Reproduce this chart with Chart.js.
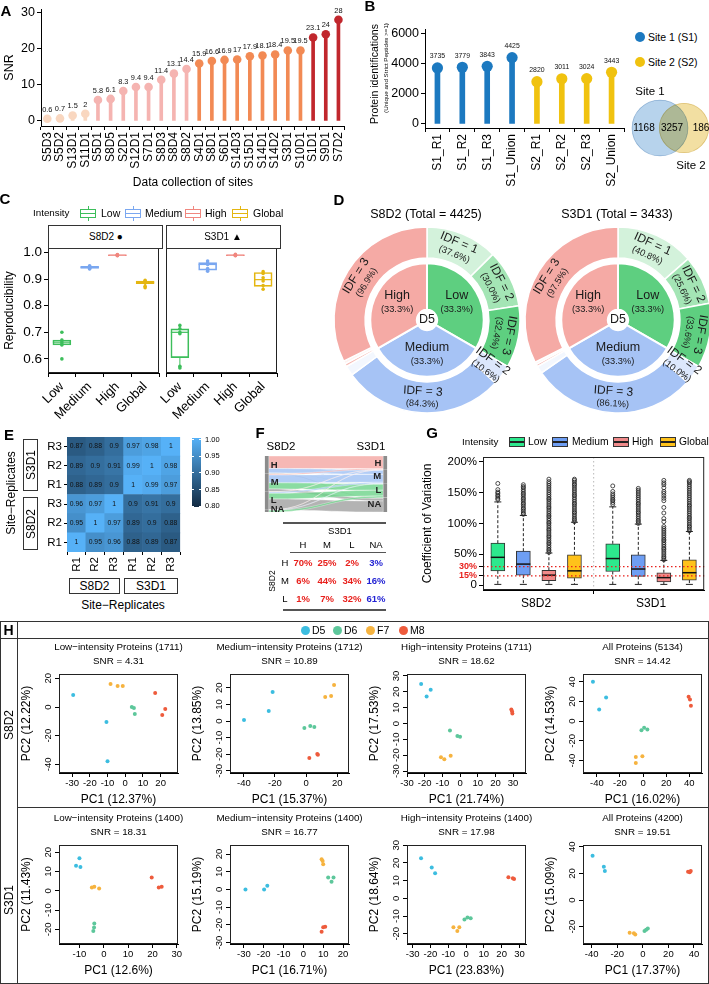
<!DOCTYPE html>
<html>
<head>
<meta charset="utf-8">
<script src="https://cdn.jsdelivr.net/npm/chart.js@4.4.1/dist/chart.umd.min.js"></script>
<style>
  html, body { margin: 0; padding: 0; width: 709px; height: 984px; overflow: hidden; background: #fff;
    font-family: "Liberation Sans", Arial, sans-serif; }
  .t { position: absolute; white-space: nowrap; line-height: 1; color: #000; }
  .r { position: absolute; box-sizing: border-box; }
</style>
</head>
<body>
<script>
// ---------- A: SNR per data collection ----------
const siteNames = ['S5D3','S5D2','S13D1','S11D1','S5D1','S8D5','S2D1','S12D1','S7D1','S8D3','S8D4','S8D2',
  'S4D1','S8D1','S6D1','S14D3','S15D1','S14D1','S14D2','S3D1','S10D1','S1D1','S9D1','S7D2'];
const siteSNR = [0.6,0.7,1.5,2,5.8,6.1,8.3,9.4,9.4,11.4,13.1,14.4,15.9,16.6,16.9,17,17.9,18.1,18.4,19.5,19.5,23.1,24,28];
const siteTier = [0,0,0,0,1,1,1,1,1,1,1,1,2,2,2,2,2,2,2,2,2,3,3,3];
const tierColors = ['#f9d7c0','#f5b4b1','#f28a54','#c1272d'];

// ---------- B: protein identifications ----------
const runNames = ['S1_R1','S1_R2','S1_R3','S1_Union','S2_R1','S2_R2','S2_R3','S2_Union'];
const runCounts = [3735,3779,3843,4425,2820,3011,3024,3443];
const runSite = [0,0,0,0,1,1,1,1];
const siteColors = ['#1c79c0','#f0c20f'];
const siteTotals = [4425, 3443];
const vennCounts = [1168, 3257, 186];

// ---------- C: reproducibility ----------
const repGroups = ['Low','Medium','High','Global'];
const repColors = ['#3dbe5b','#7aa7f0','#f0877f','#e4b611'];
// [lower whisker, q1, median, q3, upper whisker]
const repStatsS8D2 = [[0.648,0.653,0.663,0.671,0.676],[0.938,0.940,0.944,0.948,0.951],[0.987,0.988,0.990,0.991,0.993],[0.874,0.883,0.887,0.893,0.898]];
const repStatsS3D1 = [[0.566,0.605,0.700,0.713,0.726],[0.930,0.934,0.955,0.962,0.968],[0.987,0.988,0.990,0.991,0.993],[0.862,0.873,0.898,0.925,0.928]];
const repPtsS8D2 = [[0.700,0.671,0.664,0.656,0.652,0.600],[0.950,0.947,0.944,0.942,0.940,0.938],[0.992,0.991,0.990,0.989,0.988,0.990],[0.896,0.892,0.888,0.885,0.873,0.868]];
const repPtsS3D1 = [[0.726,0.713,0.700,0.695,0.572,0.566],[0.968,0.960,0.955,0.940,0.934,0.930],[0.993,0.991,0.990,0.989,0.988,0.990],[0.928,0.921,0.905,0.893,0.876,0.862]];

// ---------- D: intensity / IDF sunbursts ----------
const intensityLevels = ['Low','Medium','High'];
const intensityShare = [33.3, 33.3, 33.3];
const intensityColors = ['#5ecf80','#a6c3f5','#f5aaa5'];
const sunParent = [0,0,0,1,1,1,2,2,2];
const sunIdf = [1,2,3,2,3,1,2,1,3];
const sunPctS8D2 = [37.6,30.0,32.4,10.6,84.3,5.1,1.5,1.6,96.9];
const sunPctS3D1 = [40.8,25.6,33.6,10.0,86.1,3.9,1.3,1.2,97.5];
const sunColors = [['#d3f2db','#a4e5b5','#5ecf80'],['#f3f7fe','#dce7fc','#a6c3f5'],['#fdf3f2','#f6bcb7','#f5aaa5']];

// ---------- E: correlation heatmap (rows bottom to top) ----------
const repLabels = ['R1','R2','R3','R1','R2','R3'];
const corrRows = [
  [1,0.95,0.96,0.88,0.89,0.87],
  [0.95,1,0.97,0.89,0.9,0.88],
  [0.96,0.97,1,0.9,0.91,0.9],
  [0.88,0.89,0.9,1,0.99,0.97],
  [0.89,0.9,0.91,0.99,1,0.98],
  [0.87,0.88,0.9,0.97,0.98,1],
];

// ---------- F: class transitions S8D2 -> S3D1 ----------
const strata = ['H','M','L','NA'];
const transitionPct = [[70,25,2,3],[6,44,34,16],[1,7,32,61]];
const s8d2ClassSize = 1475;
const naToS3D1 = [9,23,140,0];
const strataColors = ['#f4a6a2','#9fc0f4','#6dd389','#a0a0a0'];

// ---------- G: coefficient of variation ----------
const cvSites = ['S8D2','S3D1'];
const cvColors = ['#2de88d','#6e9ef3','#f08a8a','#ffc21a'];
const cvStatsS8D2 = [[1,23,45,68,135],[1,16,34,55,113],[1,7,16,24,52],[1,11,23,49,102]];
const cvStatsS3D1 = [[1,22,43,67,127],[1,14,26,49,99],[1,5,12,20,40],[1,8,20,41,87]];
const cvOutS8D2 = [
  [139,141,144,146,149,151,155,165],
  [115,117,120,123,125,128,131,133,136,139,141,144,147,149,152,155,158,160,163],
  [53,56,58,61,64,67,69,72,75,78,80,83,86,89,91,94,97,100,102,105,108,111,113,116,119,122,125,127,130,133,136,139,141,144,147,150,153,156,159,162,165,168,172],
  [103,106,108,111,114,117,119,122,125,128,131,133,136,139,142,145,147,150,153,156,159,162,164,167,170,172],
];
const cvOutS3D1 = [
  [131,134,137,139,142,145,148,152,161],
  [100,103,105,108,111,114,117,119,122,125,128,131,133,136,139,142,145,148,151,154,157],
  [41,44,46,49,52,55,58,60,63,66,69,72,74,77,80,83,86,89,92,95,103,108,117,126,137,141,145,149,152,158,163,166,170],
  [88,91,94,96,99,102,105,108,110,113,116,119,122,125,128,130,133,136,139,142,145,148,151,154,157,160,163,166,168,170],
];
const cvTicks = [0,15,30,50,100,150,200];

// ---------- H: PCA ----------
const pcaGroups = ['D5','D6','F7','M8'];
const pcaColors = ['#3cbde0','#5dc79b','#f6b33f','#ee5b3c'];
const pcaGroupOf = [0,0,0,1,1,1,2,2,2,3,3,3];
const pcaTitles = ['Low−intensity Proteins','Medium−intensity Proteins','High−intensity Proteins','All Proteins'];
const pcS8D2Low = [[-29.4,8.4],[-10.6,-10.5],[-10,-37.8],[3.7,0],[4.9,-0.7],[5.4,-4.9],[-8.3,16.1],[-4.3,14.7],[-1.4,14.7],[16.9,9.8],[22.6,-1.4],[20.9,-5.6]];
const pcS8D2Medium = [[-39.9,0.6],[-24,6],[-21.5,17.5],[-1.1,-4.2],[2.7,-3],[5.3,-3.6],[12.3,14.5],[16.1,15],[18,21.7],[2.1,-22.3],[7.2,-19.9],[7.6,-20.3]];
const pcS8D2High = [[-22,25],[-16.6,21.3],[-18.9,17],[-5.7,-4.4],[-1.5,-7.9],[0,-8.3],[-10.8,-21.3],[-8.9,-22.5],[-5.3,-20.4],[29,8.8],[29.6,6.3],[29.4,7.8]];
const pcS8D2All = [[-43.4,40],[-32,24],[-38,12],[-1.4,-9.2],[0.9,-6.8],[3.7,-8.5],[-6.3,-36.4],[-0.6,-35.7],[-6.3,-42.5],[39.4,24.8],[40.6,22],[41.4,15.6]];
const pcS3D1Low = [[-10,16.8],[-11.4,13],[-9.6,12.3],[-3.9,-17],[-4,-19],[-4.3,-20.8],[-4.9,1.7],[-3.9,2.1],[-1.9,1.2],[19.7,6.9],[22.6,1.7],[23.8,2.1]];
const pcS3D1Medium = [[-29.2,0],[-19.8,0],[-18.2,2.1],[12.5,6.8],[15.2,6.8],[14.2,4.3],[9.2,17.1],[9.7,16],[10,14.3],[9.2,-23.9],[10,-21.4],[11,-21]];
const pcS3D1High = [[-25.3,22.6],[-19.3,17.4],[-17.4,14.2],[-0.9,-11.9],[0.8,-10.8],[2.6,-11.3],[-7.1,-16.4],[-4.9,-18.5],[-3.8,-16.4],[23.8,11.9],[26.3,11.3],[27,10.9]];
const pcS3D1All = [[-39.3,33.3],[-30.5,25],[-29.7,21.8],[1.3,-23.3],[2.6,-22.3],[3.9,-21.3],[-10.3,-24.5],[-7,-25],[-5.9,-25.8],[35.4,21.3],[36.7,20.8],[37.5,21.8]];
const pcaNS8D2 = [1711,1712,1711,5134];
const pcaNS3D1 = [1400,1400,1400,4200];
const pcaSnrS8D2 = ['4.31','10.89','18.62','14.42'];
const pcaSnrS3D1 = ['18.31','16.77','17.98','19.51'];
const pc1S8D2 = ['12.37','15.37','21.74','16.02'];
const pc2S8D2 = ['12.22','13.85','17.53','14.53'];
const pc1S3D1 = ['12.6','16.71','23.83','17.37'];
const pc2S3D1 = ['11.43','15.19','18.64','15.09'];
// axis limits per panel: [xmin, xmax, xstep, ymin, ymax, ystep]
const pcaRangeS8D2 = [[-37.4,29.8,10,-46,23,20],[-48.9,27.6,20,-31.3,28.3,10],[-30,37.3,10,-31.25,31.25,10],[-52,51,20,-52.7,48,20]];
const pcaRangeS3D1 = [[-18.4,30.5,10,-27.6,23.7,10],[-37,23,10,-30.8,25.1,10],[-33.2,33.7,10,-25.8,30.1,10],[-46.8,46.3,20,-33,41.3,20]];

Chart.defaults.font.family = '"Liberation Sans", Arial, sans-serif';
Chart.defaults.color = '#000';
Chart.defaults.animation = false;
Chart.defaults.responsive = false;
Chart.defaults.events = [];
Chart.defaults.plugins.legend.display = false;
Chart.defaults.plugins.tooltip.enabled = false;
const FONT = '"Liberation Sans", Arial, sans-serif';

function cv(x, y, w, h) {
  const c = document.createElement('canvas');
  c.width = w; c.height = h;
  c.style.cssText = `position:absolute;left:${x}px;top:${y}px;width:${w}px;height:${h}px`;
  document.body.appendChild(c);
  return c;
}
function lab(text, x, y, o = {}) {
  const d = document.createElement('div');
  d.className = 't';
  d.textContent = text;
  const tx = o.anchor === 'left' ? '0' : o.anchor === 'right' ? '-100%' : '-50%';
  d.style.left = x + 'px';
  d.style.top = y + 'px';
  d.style.fontSize = (o.size || 12) + 'px';
  if (o.bold) d.style.fontWeight = 'bold';
  if (o.color) d.style.color = o.color;
  d.style.transform = `translate(${tx},-50%)` + (o.rot ? ` rotate(${o.rot}deg)` : '');
  document.body.appendChild(d);
  return d;
}
function box(x, y, w, h, css) {
  const d = document.createElement('div');
  d.className = 'r';
  d.style.cssText += `left:${x}px;top:${y}px;width:${w}px;height:${h}px;` + (css || '');
  document.body.appendChild(d);
  return d;
}
function axis(o) {
  const a = {
    type: o.type || 'linear',
    display: o.display ?? true,
    min: o.min, max: o.max,
    offset: o.offset ?? false,
    reverse: o.reverse ?? false,
    grid: {display: true, drawOnChartArea: false, drawTicks: true, tickLength: o.tick ?? 4, color: '#000'},
    border: {display: o.border ?? true, color: '#000'},
    ticks: {color: o.color || '#000', font: o.fontFn || {size: o.font || 12}, padding: o.pad ?? 2, autoSkip: false,
      minRotation: o.rot || 0, maxRotation: o.rot || 0, crossAlign: o.cross || 'near'},
    title: {display: !!o.title, text: o.title || '', font: {size: o.titleSize || 12}, color: '#000', padding: {top: 2, bottom: 2}},
    afterFit: s => { if (o.width != null) s.width = o.width; if (o.height != null) s.height = o.height; },
  };
  let at = o.at;
  if (o.step) {
    // multiples of the step inside the axis limits
    at = [];
    for (let v = Math.ceil(o.min / o.step - 1e-9) * o.step; v <= o.max + 1e-9; v += o.step) at.push(+v.toFixed(6));
  }
  if (at) a.afterBuildTicks = s => { s.ticks = at.map(v => ({value: v})); };
  a.ticks.callback = o.cb || (v => String(v));
  return a;
}

// ---- plugins ----
const panelBorder = {id: 'panelBorder', afterDraw(chart) {
  const {ctx, chartArea: a} = chart;
  ctx.save(); ctx.strokeStyle = '#222'; ctx.lineWidth = 1;
  ctx.strokeRect(a.left + 0.5, a.top + 0.5, a.right - a.left - 1, a.bottom - a.top - 1);
  ctx.restore();
}};
const valueLabels = {id: 'valueLabels', afterDatasetsDraw(chart) {
  const ctx = chart.ctx;
  chart.data.datasets.forEach((ds, i) => {
    if (!ds.valueLabels) return;
    ctx.save();
    ctx.font = `${ds.valueLabels.size}px ${FONT}`; ctx.fillStyle = '#111';
    ctx.textAlign = 'center'; ctx.textBaseline = 'bottom';
    chart.getDatasetMeta(i).data.forEach((p, j) => ctx.fillText(String(ds.data[j]), p.x, p.y - ds.valueLabels.dy));
    ctx.restore();
  });
}};
const boxWhiskers = {id: 'boxWhiskers', afterDatasetsDraw(chart) {
  const ctx = chart.ctx, y = chart.scales.y;
  chart.data.datasets.forEach((ds, i) => {
    if (!ds.stats) return;
    chart.getDatasetMeta(i).data.forEach((bar, j) => {
      const [lo, q1, med, q3, hi] = ds.stats[j];
      const col = Array.isArray(ds.lineColor) ? ds.lineColor[j] : ds.lineColor;
      const x = bar.x, hw = bar.width / 2;
      ctx.save();
      ctx.strokeStyle = col; ctx.lineWidth = 1;
      ctx.setLineDash(ds.whiskerDash || []);
      ctx.beginPath();
      ctx.moveTo(x, y.getPixelForValue(q3)); ctx.lineTo(x, y.getPixelForValue(hi));
      ctx.moveTo(x, y.getPixelForValue(q1)); ctx.lineTo(x, y.getPixelForValue(lo));
      ctx.stroke();
      ctx.setLineDash([]);
      if (ds.capWidth) {
        ctx.beginPath();
        [lo, hi].forEach(v => { const py = y.getPixelForValue(v); ctx.moveTo(x - ds.capWidth / 2, py); ctx.lineTo(x + ds.capWidth / 2, py); });
        ctx.stroke();
      }
      const pm = y.getPixelForValue(med);
      ctx.lineWidth = ds.medianWidth || 1.2; ctx.strokeStyle = ds.medianColor || col;
      ctx.beginPath(); ctx.moveTo(x - hw, pm); ctx.lineTo(x + hw, pm); ctx.stroke();
      ctx.restore();
    });
  });
}};
const multiplyBlend = {id: 'multiplyBlend',
  beforeDatasetsDraw(chart) { chart.ctx.globalCompositeOperation = 'multiply'; },
  afterDatasetsDraw(chart) { chart.ctx.globalCompositeOperation = 'source-over'; }};
const sunLabels = {id: 'sunLabels', afterDatasetsDraw(chart, args, opts) {
  const ctx = chart.ctx;
  const f = s => `${s}px ${FONT}`;
  ctx.save();
  ctx.fillStyle = '#1a1a1a'; ctx.textAlign = 'center'; ctx.textBaseline = 'middle';
  const outer = chart.data.datasets[0];
  chart.getDatasetMeta(0).data.forEach((a, i) => {
    if (outer.pct[i] < 10) return;
    const mid = (a.startAngle + a.endAngle) / 2, r = (a.innerRadius + a.outerRadius) / 2;
    let rot = mid;
    if (a.endAngle - a.startAngle > 0.3) {
      rot = mid + Math.PI / 2;
      rot = Math.atan2(Math.sin(rot), Math.cos(rot));
      if (rot > 1.92) rot -= Math.PI; else if (rot < -1.92) rot += Math.PI;
    }
    ctx.save();
    ctx.translate(a.x + r * Math.cos(mid), a.y + r * Math.sin(mid));
    ctx.rotate(rot);
    ctx.font = f(12); ctx.fillText(`IDF = ${outer.idf[i]}`, 0, -6);
    ctx.font = f(9.3); ctx.fillText(`(${outer.pct[i].toFixed(1)}%)`, 0, 6.5);
    ctx.restore();
  });
  const inner = chart.data.datasets[2];
  const arcs = chart.getDatasetMeta(2).data;
  arcs.forEach((a, i) => {
    const mid = (a.startAngle + a.endAngle) / 2, r = (a.innerRadius + a.outerRadius) / 2 + 1;
    const x = a.x + r * Math.cos(mid), y = a.y + r * Math.sin(mid);
    ctx.font = f(12.5); ctx.fillText(intensityLevels[i], x, y - 7);
    ctx.font = f(9.3); ctx.fillText(`(${inner.data[i].toFixed(1)}%)`, x, y + 7);
  });
  ctx.font = f(12.5); ctx.fillText(opts.centre, arcs[0].x, arcs[0].y);
  ctx.restore();
}};
const cellText = {id: 'cellText', afterDatasetsDraw(chart) {
  const ctx = chart.ctx;
  ctx.save(); ctx.font = `6.8px ${FONT}`; ctx.fillStyle = '#111'; ctx.textAlign = 'center'; ctx.textBaseline = 'middle';
  chart.data.datasets.forEach((ds, i) => {
    if (!ds.cellValues) return;
    chart.getDatasetMeta(i).data.forEach((b, j) => ctx.fillText(String(ds.cellValues[j]), b.x, (b.y + b.base) / 2));
  });
  ctx.restore();
}};
const alluvium = {id: 'alluvium',
  beforeDatasetsDraw(chart, args, o) {
    const {ctx, scales: {x, y}} = chart;
    const xl = x.getPixelForValue(0) + 2, xr = x.getPixelForValue(1) - 2, xm = (xl + xr) / 2;
    const rows = o.flows, nR = rows[0].length;
    const curL = [], curR = [];
    let acc = 0;
    rows.forEach(r => { curL.push(acc); acc += r.reduce((s, v) => s + v, 0); });
    acc = 0;
    for (let j = 0; j < nR; j++) { curR.push(acc); rows.forEach(r => { acc += r[j]; }); }
    ctx.save();
    rows.forEach((r, i) => r.forEach((v, j) => {
      if (!v) return;
      const a0 = y.getPixelForValue(curL[i]), a1 = y.getPixelForValue(curL[i] + v);
      const b0 = y.getPixelForValue(curR[j]), b1 = y.getPixelForValue(curR[j] + v);
      curL[i] += v; curR[j] += v;
      ctx.beginPath();
      ctx.moveTo(xl, a0); ctx.bezierCurveTo(xm, a0, xm, b0, xr, b0);
      ctx.lineTo(xr, b1); ctx.bezierCurveTo(xm, b1, xm, a1, xl, a1); ctx.closePath();
      ctx.globalAlpha = 0.8; ctx.fillStyle = o.colors[j]; ctx.fill();
      ctx.globalAlpha = 1; ctx.strokeStyle = 'rgba(255,255,255,0.7)'; ctx.lineWidth = 0.5; ctx.stroke();
    }));
    ctx.restore();
  },
  afterDatasetsDraw(chart, args, o) {
    const {ctx, scales: {y}} = chart;
    const bars = chart.getDatasetMeta(0).data;
    ctx.save(); ctx.font = `bold 9.5px ${FONT}`; ctx.fillStyle = '#222'; ctx.textBaseline = 'middle';
    bars.forEach((b, k) => {
      const left = k < o.names.length;
      ctx.textAlign = left ? 'left' : 'right';
      ctx.fillText(o.names[k % o.names.length], left ? b.x + 4 : b.x - 4, Math.min((b.y + b.base) / 2, y.bottom - 3));
    });
    ctx.restore();
  }};
const refLines = {id: 'refLines', afterDatasetsDraw(chart, args, o) {
  const {ctx, chartArea: a, scales: {x, y}} = chart;
  ctx.save(); ctx.lineWidth = 1.2; ctx.setLineDash([1.5, 2.5]);
  ctx.strokeStyle = o.hColor;
  o.h.forEach(v => { const py = y.getPixelForValue(v); ctx.beginPath(); ctx.moveTo(a.left, py); ctx.lineTo(a.right, py); ctx.stroke(); });
  ctx.strokeStyle = o.vColor;
  o.v.forEach(v => { const px = x.getPixelForValue(v); ctx.beginPath(); ctx.moveTo(px, a.top); ctx.lineTo(px, a.bottom); ctx.stroke(); });
  ctx.restore();
}};

// ================= A =================
new Chart(cv(0, -3, 355, 195), {
  type: 'bar',
  data: {labels: siteNames, datasets: [
    {data: siteSNR, backgroundColor: siteTier.map(t => tierColors[t]), barThickness: 3, order: 2},
    {type: 'line', data: siteSNR, showLine: false, pointRadius: 4.3, pointBorderWidth: 0,
     pointBackgroundColor: siteTier.map(t => tierColors[t]), order: 1, valueLabels: {size: 7.4, dy: 5.5}},
  ]},
  options: {layout: {padding: {top: 12, right: 8}}, scales: {
    x: axis({type: 'category', offset: true, font: 12, rot: 90, height: 66, title: 'Data collection of sites', titleSize: 12,
      cb: (v, i) => siteNames[i]}),
    y: axis({min: -1.4, max: 31, step: 10, font: 12.5, width: 41, title: 'SNR', titleSize: 12.5}),
  }},
  plugins: [valueLabels],
});
lab('A', 6, 10, {size: 15, bold: true});

// ================= B =================
new Chart(cv(360, 0, 270, 195), {
  type: 'bar',
  data: {labels: runNames, datasets: [
    {data: runCounts, backgroundColor: runSite.map(s => siteColors[s]), barThickness: 5, order: 2},
    {type: 'line', data: runCounts, showLine: false, pointRadius: 5.6, pointBorderWidth: 0,
     pointBackgroundColor: runSite.map(s => siteColors[s]), order: 1, valueLabels: {size: 6.9, dy: 8}},
  ]},
  options: {layout: {padding: {top: 29.5, right: 6}}, scales: {
    x: axis({type: 'category', offset: true, font: 12, rot: 90, height: 67, cb: (v, i) => runNames[i]}),
    y: axis({min: -270, max: 6300, step: 2000, font: 12.5, width: 65}),
  }},
  plugins: [valueLabels],
});
lab('B', 370, 5, {size: 15, bold: true});
lab('Protein identifications', 374, 74, {size: 10.5, rot: -90});
lab('(Unique and Strict Peptides >=1)', 386, 68, {size: 6.2, rot: -90});
['Site 1 (S1)', 'Site 2 (S2)'].forEach((t, i) => {
  box(635, 32 + i * 25, 10, 10, `border-radius:50%;background:${siteColors[i]};`);
  lab(t, 648, 37 + i * 25, {size: 10.5, anchor: 'left'});
});
// Venn: the bubble controller insets the plot by the largest radius, so pad the canvas by the same amount
new Chart(cv(595, 52, 144, 152), {
  type: 'bubble',
  data: {datasets: [{
    data: siteTotals.map((n, i) => ({x: i, y: 0, r: 0.42 * Math.sqrt(n)})),
    backgroundColor: ['#b7d3ec', '#f2dfa2'], borderColor: ['#a8c4de', '#e4cf8e'], borderWidth: 0.8, clip: false,
  }]},
  options: {layout: {padding: 30}, scales: {x: {display: false, min: -1.458, max: 2.042}, y: {display: false, min: -1, max: 1}}},
  plugins: [multiplyBlend],
});
lab('Site 1', 650, 92, {size: 11.5});
lab('Site 2', 691, 166, {size: 11.5});
[644, 672, 701].forEach((x, i) => lab(String(vennCounts[i]), x, 128, {size: 10}));

// ================= C =================
function repChart(canvas, stats, pts, showY, padLeft) {
  return new Chart(canvas, {
    type: 'bar',
    data: {labels: repGroups, datasets: [
      {data: stats.map(s => [s[1], s[3]]), stats, lineColor: repColors, backgroundColor: 'rgba(255,255,255,0)',
       borderColor: repColors, borderWidth: 1, borderSkipped: false, barThickness: 18, order: 3},
      ...pts.map((p, g) => ({type: 'line', showLine: false, data: p.map(v => ({x: repGroups[g], y: v})),
        pointRadius: 1.8, pointBorderWidth: 0, pointBackgroundColor: repColors[g], order: 1})),
    ]},
    options: {layout: {padding: {left: padLeft, top: 12}}, scales: {
      x: axis({type: 'category', offset: true, font: 13, rot: 45, height: 50, cb: (v, i) => repGroups[i]}),
      y: showY ? axis({min: 0.547, max: 1.017, step: 0.1, font: 13.5, width: 48, title: 'Reproducibility', titleSize: 12, cb: v => v.toFixed(1)})
               : {display: false, min: 0.547, max: 1.017},
    }},
    plugins: [boxWhiskers, panelBorder],
  });
}
repChart(cv(0, 236, 163, 187), repStatsS8D2, repPtsS8D2, true, 0);
repChart(cv(136, 236, 145, 187), repStatsS3D1, repPtsS3D1, false, 30);
lab('C', 5, 198, {size: 15, bold: true});
box(48, 225, 115, 24, 'border:1px solid #333;background:#fff;');
box(166, 225, 115, 24, 'border:1px solid #333;background:#fff;');
lab('S8D2 ●', 106, 237, {size: 10});
lab('S3D1 ▲', 223, 237, {size: 10});
lab('Intensity', 33, 213, {size: 9.8, anchor: 'left'});
[[88, 101], [133, 145], [193, 205], [240, 253]].forEach(([ix, tx], i) => {
  const c = repColors[i];
  box(ix - 8, 208.5, 16, 9, `border:1px solid ${c};background:linear-gradient(to bottom,transparent 42%,${c} 42%,${c} 58%,transparent 58%);`);
  box(ix - 0.5, 205.5, 1, 3, `background:${c};`);
  box(ix - 0.5, 217.5, 1, 3, `background:${c};`);
  lab(repGroups[i], tx, 213, {size: 10.5, anchor: 'left'});
});

// ================= D =================
function sunburst(cx, cy, pct, centre) {
  return new Chart(cv(cx - 120, cy - 120, 240, 240), {
    type: 'doughnut',
    data: {datasets: [
      {data: pct.map((p, i) => p * intensityShare[sunParent[i]] / 100), idf: sunIdf, pct,
       backgroundColor: pct.map((p, i) => sunColors[sunParent[i]][sunIdf[i] - 1]), borderColor: '#fff', borderWidth: 1.5, weight: 30},
      {data: [1], backgroundColor: 'rgba(0,0,0,0)', borderWidth: 0, weight: 5},
      {data: intensityShare, backgroundColor: intensityColors, borderColor: '#fff', borderWidth: 2, weight: 45},
    ]},
    options: {radius: 93, cutout: 13, plugins: {sunLabels: {centre}}},
    plugins: [sunLabels],
  });
}
sunburst(427, 320, sunPctS8D2, 'D5');
sunburst(618, 320, sunPctS3D1, 'D5');
lab('D', 339, 199, {size: 15, bold: true});
lab('S8D2 (Total = 4425)', 426, 214, {size: 12.5});
lab('S3D1 (Total = 3433)', 617, 214, {size: 12.5});

// ================= E =================
function heatColor(v) {
  const t = Math.max(0, Math.min(1, (v - 0.8) / 0.2));
  const lo = [19, 43, 67], hi = [86, 177, 247];
  return `rgb(${lo.map((c, k) => Math.round(c + (hi[k] - c) * t)).join(',')})`;
}
new Chart(cv(40, 425, 147, 152), {
  type: 'bar',
  data: {labels: repLabels, datasets: corrRows.map((row, r) => ({
    data: row.map(() => [r - 0.5, r + 0.5]), cellValues: row, backgroundColor: row.map(heatColor),
    borderWidth: 0, grouped: false, barPercentage: 1, categoryPercentage: 1,
  }))},
  options: {layout: {padding: {top: 12, right: 5}}, scales: {
    x: axis({type: 'category', offset: true, font: 11.5, rot: 90, height: 25, border: false, tick: 3, cb: (v, i) => repLabels[i]}),
    y: axis({min: -0.5, max: 5.5, at: [0, 1, 2, 3, 4, 5], font: 11.5, width: 27, border: false, tick: 3, cb: (v, i) => repLabels[i]}),
  }},
  plugins: [cellText],
});
lab('E', 9, 434, {size: 15, bold: true});
lab('Site−Replicates', 11, 493, {size: 12, rot: -90});
lab('Site−Replicates', 123, 605, {size: 12});
box(23, 439, 15, 52, 'border:1px solid #333;');
box(23, 497, 15, 53, 'border:1px solid #333;');
lab('S3D1', 30.5, 465, {size: 12, rot: -90});
lab('S8D2', 30.5, 523.5, {size: 12, rot: -90});
box(69, 578, 51, 16, 'border:1px solid #333;');
box(124, 578, 54, 16, 'border:1px solid #333;');
lab('S8D2', 94.5, 586, {size: 12});
lab('S3D1', 151, 586, {size: 12});
box(192, 438, 9, 69, `background:linear-gradient(to top,${heatColor(0.8)},${heatColor(0.9)},${heatColor(1)});`);
[1.00, 0.95, 0.90, 0.85, 0.80].forEach((v, i) => {
  const yy = 439.5 + i * 16.7;
  box(192, yy - 0.5, 2, 1, 'background:#fff;');
  box(199, yy - 0.5, 2, 1, 'background:#fff;');
  lab(v.toFixed(2), 205, yy, {size: 7.5, anchor: 'left'});
});

// ================= F =================
const flowRows = transitionPct.map(r => r.map(p => p * s8d2ClassSize / 100)).concat([naToS3D1]);
const leftTotals = flowRows.map(r => r.reduce((a, b) => a + b, 0));
const rightTotals = strata.map((_, j) => flowRows.reduce((a, r) => a + r[j], 0));
const cumStart = arr => arr.map((v, i) => arr.slice(0, i).reduce((a, b) => a + b, 0));
const flowTotal = leftTotals.reduce((a, b) => a + b, 0);
new Chart(cv(262, 456, 128, 56), {
  type: 'bar',
  data: {datasets: [{
    data: [
      ...leftTotals.map((v, i) => ({x: 0, y: [cumStart(leftTotals)[i], cumStart(leftTotals)[i] + v]})),
      ...rightTotals.map((v, i) => ({x: 1, y: [cumStart(rightTotals)[i], cumStart(rightTotals)[i] + v]})),
    ],
    backgroundColor: '#8c8c8c', borderColor: '#fff', borderWidth: 0.4, barThickness: 4,
  }]},
  options: {
    scales: {x: {type: 'linear', display: false, min: -0.04, max: 1.04, offset: false},
             y: {display: false, min: 0, max: flowTotal, reverse: true}},
    plugins: {alluvium: {flows: flowRows, colors: strataColors, names: strata}},
  },
  plugins: [alluvium],
});
lab('F', 260, 432, {size: 15, bold: true});
lab('S8D2', 281, 447, {size: 11.5});
lab('S3D1', 371, 447, {size: 11.5});
box(283, 522, 103, 1.5, 'background:#555;');
box(290, 552, 96, 1, 'background:#555;');
box(283, 609, 103, 1.5, 'background:#555;');
lab('S3D1', 340, 531, {size: 9.5});
const tblX = [303, 327, 352, 376];
strata.forEach((s, j) => lab(s, tblX[j], 545, {size: 9.5}));
lab('S8D2', 272, 581, {size: 8.5, rot: -90});
transitionPct.forEach((row, i) => {
  const yy = 563 + i * 18;
  lab(strata[i], 285, yy, {size: 9.5});
  row.forEach((p, j) => lab(p + '%', tblX[j], yy, {size: 9.5, bold: true, color: j < 3 ? '#e8201c' : '#2323d4'}));
});

// ================= G =================
const cvPos = (site, k) => 1 + site * 4.5 + k;
const cvStats = [...cvStatsS8D2, ...cvStatsS3D1];
const cvOut = [...cvOutS8D2, ...cvOutS3D1];
new Chart(cv(418, 445, 291, 172), {
  type: 'bar',
  data: {datasets: [
    {data: cvStats.map((s, i) => ({x: cvPos(Math.floor(i / 4), i % 4), y: [s[1], s[3]]})), stats: cvStats,
     backgroundColor: cvStats.map((s, i) => cvColors[i % 4]), borderColor: '#333', borderWidth: 1, borderSkipped: false,
     barThickness: 14, lineColor: '#222', whiskerDash: [3, 2], capWidth: 7, medianColor: '#111', medianWidth: 1.5, order: 2},
    {type: 'scatter', data: cvOut.flatMap((arr, i) => arr.map(v => ({x: cvPos(Math.floor(i / 4), i % 4), y: v}))),
     pointRadius: 2, pointBorderWidth: 0.8, pointBorderColor: '#222', pointBackgroundColor: 'rgba(0,0,0,0)', order: 1},
  ]},
  options: {
    layout: {padding: {top: 12, right: 1}},
    scales: {
      x: axis({min: 0.42, max: 9.08, at: [2.5, 7], font: 12, height: 27, cb: (v, i) => cvSites[i]}),
      y: axis({min: -8.1, max: 208, at: cvTicks, width: 65, title: 'Coefficient of Variation', titleSize: 12,
        cb: v => v === 0 ? '0' : v + '%',
        color: c => (c.tick && (c.tick.value === 15 || c.tick.value === 30)) ? '#e8211d' : '#000',
        fontFn: c => (c.tick && (c.tick.value === 15 || c.tick.value === 30)) ? {size: 9, weight: 'bold'} : {size: 11.5}}),
    },
    plugins: {refLines: {h: [15, 30], v: [(cvPos(0, 3) + cvPos(1, 0)) / 2], hColor: '#e8211d', vColor: '#c4c4c4'}},
  },
  plugins: [boxWhiskers, refLines, panelBorder],
});
lab('G', 432, 432, {size: 15, bold: true});
lab('Intensity', 462, 442, {size: 9.8, anchor: 'left'});
[[517, 528], [560, 572], [621, 632], [668, 679]].forEach(([ix, tx], i) => {
  box(ix - 8, 437, 16, 10, `border:1px solid #333;background:linear-gradient(to bottom,transparent 40%,#222 40%,#222 60%,transparent 60%),${cvColors[i]};`);
  lab(repGroups[i], tx, 442, {size: 10.3, anchor: 'left'});
});

// ================= H =================
box(0, 621, 709, 363, 'border:1.3px solid #333;');
box(0, 638, 709, 1.3, 'background:#333;');
box(17, 621, 1.3, 363, 'background:#333;');
box(17, 807, 692, 1.3, 'background:#333;');
lab('H', 8.5, 630, {size: 14, bold: true});
[305, 337, 370, 403].forEach((x, i) => {
  box(x - 4.5, 625.5, 9, 9, `border-radius:50%;background:${pcaColors[i]};`);
  lab(pcaGroups[i], x + 7, 630, {size: 10.5, anchor: 'left'});
});
const pcaBoxLeft = [59, 230, 407, 583];
const pcaBoxTop = [674, 845];
const pcaRows = [
  {site: 'S8D2', pts: [pcS8D2Low, pcS8D2Medium, pcS8D2High, pcS8D2All], n: pcaNS8D2, snr: pcaSnrS8D2, pc1: pc1S8D2, pc2: pc2S8D2, rng: pcaRangeS8D2},
  {site: 'S3D1', pts: [pcS3D1Low, pcS3D1Medium, pcS3D1High, pcS3D1All], n: pcaNS3D1, snr: pcaSnrS3D1, pc1: pc1S3D1, pc2: pc2S3D1, rng: pcaRangeS3D1},
];
pcaRows.forEach((row, r) => {
  const top = pcaBoxTop[r];
  lab(row.site, 9, r === 0 ? 725 : 900, {size: 12, rot: -90});
  row.pts.forEach((pts, c) => {
    const left = pcaBoxLeft[c], rg = row.rng[c];
    new Chart(cv(left - 42, top - 12, 169, 147), {
      type: 'scatter',
      data: {datasets: pcaGroups.map((g, gi) => ({
        data: pts.filter((_, k) => pcaGroupOf[k] === gi).map(([x, y]) => ({x, y})),
        pointRadius: 2, pointBorderWidth: 0, pointBackgroundColor: pcaColors[gi],
      }))},
      options: {layout: {padding: {top: 12, right: 8}}, scales: {
        x: axis({min: rg[0], max: rg[1], step: rg[2], font: 9.5, height: 36, pad: 1, title: `PC1 (${row.pc1[c]}%)`, titleSize: 12}),
        y: axis({min: rg[3], max: rg[4], step: rg[5], font: 9.5, width: 42, pad: 0, rot: 90, cross: 'center', title: `PC2 (${row.pc2[c]}%)`, titleSize: 12}),
      }},
      plugins: [panelBorder],
    });
    lab(`${pcaTitles[c]} (${row.n[c]})`, left + 59.5, top - 27, {size: 9.8});
    lab(`SNR = ${row.snr[c]}`, left + 59.5, top - 13, {size: 9.8});
  });
});
</script>
</body>
</html>
